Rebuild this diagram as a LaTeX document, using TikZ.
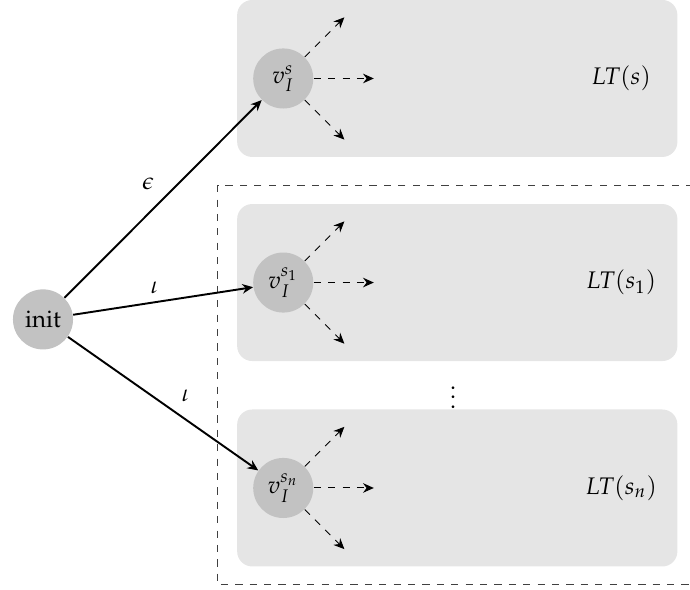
\documentclass[tikz,border=0pt]{standalone}
\usepackage[T1]{fontenc}
\usepackage{mathpazo}
\usetikzlibrary{positioning, arrows.meta}
\tikzset{>={Stealth[length=4.5pt, width=4pt, inset=1.5pt]}}

\begin{document}
\begin{tikzpicture}[
    state/.style = {circle, fill=black!24, minimum size=0.88cm, inner sep=0pt},
    ltbox/.style = {rectangle, rounded corners=0.22cm, fill=black!10, minimum width=6.45cm, minimum height=2.30cm},
    trans/.style = {->, thick},
    succ/.style  = {->, dashed}
]
    \useasboundingbox (0,0) rectangle (10.11,8.64);
    \begin{scope}
        \clip (0,0) rectangle (10.11,8.64);
        \draw[dashed, black!75] (11,5.92) -- (3.19,5.92) -- (3.19,0.07) -- (11,0.07);
    \end{scope}

    \node[ltbox] (box1) at (6.70,7.49) {};
    \node[ltbox] (box2) at (6.70,4.50) {};
    \node[ltbox] (box3) at (6.70,1.49) {};

    \node[state] (init) at (0.63,3.96) {init};
    \node[state] (v1) at (4.15,7.49) {$v_I^{s}$};
    \node[state] (v2) at (4.15,4.50) {$v_I^{s_1}$};
    \node[state] (v3) at (4.15,1.49) {$v_I^{s_n}$};

    \node (lt1) at (9.10,7.49) {$LT(s)$};
    \node (lt2) at (9.10,4.50) {$LT(s_1)$};
    \node (lt3) at (9.10,1.49) {$LT(s_n)$};
    \node (dots) at (6.64,2.92) {$\vdots$};

    \draw[trans] (init) -- node[above left, pos=0.5] {$\epsilon$} (v1);
    \draw[trans] (init) -- node[above, pos=0.45] {$\iota$} (v2);
    \draw[trans] (init) -- node[above right, pos=0.55] {$\iota$} (v3);

    \foreach \i in {1,2,3} {
        \draw[succ] (v\i.45) -- ++(45:0.82);
        \draw[succ] (v\i.east) -- ++(0:0.88);
        \draw[succ] (v\i.-45) -- ++(-45:0.82);
    }
\end{tikzpicture}
\end{document}
